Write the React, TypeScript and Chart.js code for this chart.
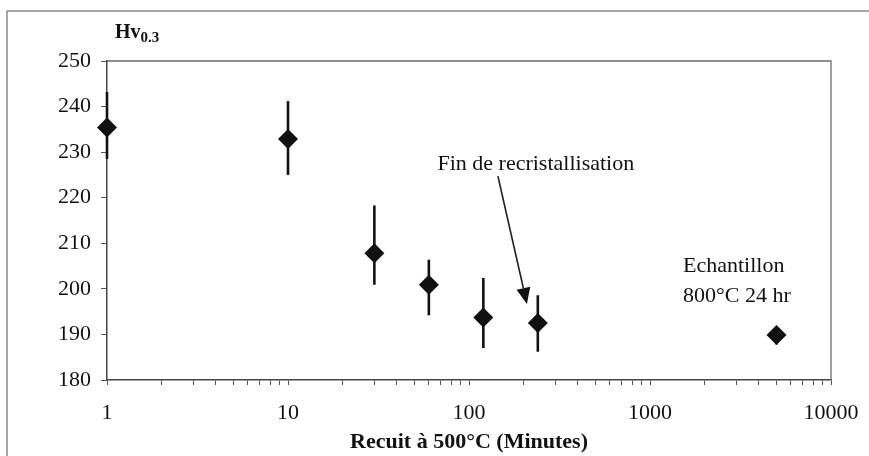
import React, { useEffect, useRef } from "react";
import { Chart, registerables } from "chart.js";

Chart.register(...registerables);

// ---- data ----
const times = [1, 10, 30, 60, 120, 240, 5000];
const hardness = [235.4, 232.9, 207.8, 200.9, 193.7, 192.5, 189.9];
const errLow = [228.5, 225.0, 200.9, 194.2, 187.0, 186.2, 187.8];
const errHigh = [243.2, 241.2, 218.3, 206.4, 202.4, 198.6, 191.2];

const yMin = 180;
const yMax = 250;
const yStep = 10;
const xMin = 1;
const xMax = 10000;

const yAxisLabel = "Hv";
const yAxisSub = "0.3";
const xAxisLabel = "Recuit à 500°C (Minutes)";

const noteTexts = ["Fin de recristallisation", "Echantillon", "800°C 24 hr"];
const noteX = [234, 1521, 1521];
const noteY = [226, 203.6, 197.2];
const noteAlign = ["center", "left", "left"];
const arrowFrom = [144.5, 224.7];
const arrowTo = [209, 196.7];

const SERIF = '"Liberation Serif", "Times New Roman", serif';

const decorPlugin = {
  id: "decor",
  beforeDatasetsDraw(chart: any) {
    const { ctx, scales } = chart;
    const xs = scales.x;
    const ys = scales.y;
    ctx.save();
    ctx.strokeStyle = "#111";
    ctx.lineWidth = 2.6;
    for (let i = 0; i < times.length; i++) {
      const px = xs.getPixelForValue(times[i]);
      ctx.beginPath();
      ctx.moveTo(px, ys.getPixelForValue(errLow[i]));
      ctx.lineTo(px, ys.getPixelForValue(errHigh[i]));
      ctx.stroke();
    }
    ctx.restore();
  },
  afterDraw(chart: any) {
    const { ctx, scales, chartArea, width, height } = chart;
    const xs = scales.x;
    const ys = scales.y;
    ctx.save();
    // outer frame (top + left visible)
    ctx.strokeStyle = "#8a8a8a";
    ctx.lineWidth = 1.5;
    ctx.beginPath();
    ctx.moveTo(7, height);
    ctx.lineTo(7, 11);
    ctx.lineTo(width, 11);
    ctx.stroke();
    // plot box top + right
    ctx.strokeStyle = "#6e6e6e";
    ctx.lineWidth = 1.3;
    ctx.beginPath();
    ctx.moveTo(chartArea.left, chartArea.top);
    ctx.lineTo(chartArea.right, chartArea.top);
    ctx.lineTo(chartArea.right, chartArea.bottom);
    ctx.stroke();

    ctx.fillStyle = "#111";
    // y axis label Hv0.3
    ctx.textBaseline = "alphabetic";
    ctx.textAlign = "left";
    ctx.font = `bold 20px ${SERIF}`;
    const hx = 115;
    ctx.fillText(yAxisLabel, hx, 38);
    const hw = ctx.measureText(yAxisLabel).width;
    ctx.font = `bold 15px ${SERIF}`;
    ctx.fillText(yAxisSub, hx + hw, 42);

    // x axis title
    ctx.font = `bold 22px ${SERIF}`;
    ctx.textAlign = "center";
    ctx.fillText(xAxisLabel, (chartArea.left + chartArea.right) / 2, 448);

    // notes
    ctx.font = `22px ${SERIF}`;
    for (let i = 0; i < noteTexts.length; i++) {
      ctx.textAlign = noteAlign[i] as CanvasTextAlign;
      ctx.fillText(noteTexts[i], xs.getPixelForValue(noteX[i]), ys.getPixelForValue(noteY[i]));
    }

    // arrow
    const x0 = xs.getPixelForValue(arrowFrom[0]);
    const y0 = ys.getPixelForValue(arrowFrom[1]);
    const x1 = xs.getPixelForValue(arrowTo[0]);
    const y1 = ys.getPixelForValue(arrowTo[1]);
    const ang = Math.atan2(y1 - y0, x1 - x0);
    const headLen = 16;
    const headW = 7;
    const bx = x1 - headLen * Math.cos(ang);
    const by = y1 - headLen * Math.sin(ang);
    ctx.strokeStyle = "#222";
    ctx.lineWidth = 1.6;
    ctx.beginPath();
    ctx.moveTo(x0, y0);
    ctx.lineTo(bx, by);
    ctx.stroke();
    ctx.beginPath();
    ctx.moveTo(x1, y1);
    ctx.lineTo(bx + headW * Math.sin(ang), by - headW * Math.cos(ang));
    ctx.lineTo(bx - headW * Math.sin(ang), by + headW * Math.cos(ang));
    ctx.closePath();
    ctx.fill();
    ctx.restore();
  },
};

export default function App() {
  const ref = useRef<HTMLCanvasElement | null>(null);
  useEffect(() => {
    if (!ref.current) return;
    const chart = new Chart(ref.current, {
      type: "scatter",
      data: {
        datasets: [
          {
            data: times.map((t, i) => ({ x: t, y: hardness[i] })),
            pointStyle: "rectRot",
            pointRadius: 10,
            pointHoverRadius: 10,
            backgroundColor: "#111",
            borderColor: "#111",
            borderWidth: 0,
            clip: false,
          },
        ],
      },
      options: {
        responsive: false,
        animation: false,
        events: [],
        layout: { padding: { top: 61, right: 38, left: 0, bottom: 0 } },
        plugins: {
          legend: { display: false },
          tooltip: { enabled: false },
        },
        scales: {
          x: {
            type: "logarithmic",
            min: xMin,
            max: xMax,
            afterBuildTicks(scale: any) {
              const t: any[] = [];
              for (let d = 1; d < xMax; d *= 10) {
                for (let k = 1; k < 10; k++) t.push({ value: d * k });
              }
              t.push({ value: xMax });
              scale.ticks = t;
            },
            afterFit(scale: any) {
              scale.height = 76;
              scale.paddingLeft = 0;
              scale.paddingRight = 0;
            },
            ticks: {
              autoSkip: false,
              maxRotation: 0,
              padding: 15,
              color: "#111",
              font: { family: SERIF, size: 22 },
              callback(value: any) {
                const v = Number(value);
                const l = Math.log10(v);
                return Math.abs(l - Math.round(l)) < 1e-9 ? String(v) : "";
              },
            },
            grid: {
              drawOnChartArea: false,
              drawTicks: true,
              tickLength: 5,
              color: "#555",
              lineWidth: 1,
            },
            border: { display: true, color: "#444", width: 1.5 },
          },
          y: {
            min: yMin,
            max: yMax,
            afterFit(scale: any) {
              scale.width = 107;
              scale.paddingTop = 0;
              scale.paddingBottom = 0;
            },
            ticks: {
              stepSize: yStep,
              padding: 10,
              color: "#111",
              font: { family: SERIF, size: 22 },
            },
            grid: {
              drawOnChartArea: false,
              drawTicks: true,
              tickLength: 6,
              color: "#555",
              lineWidth: 1,
            },
            border: { display: true, color: "#444", width: 1.5 },
          },
        },
      },
      plugins: [decorPlugin],
    });
    return () => chart.destroy();
  }, []);
  return (
    <div style={{ position: "absolute", left: 0, top: 0, width: 869, height: 456, background: "#fff" }}>
      <canvas ref={ref} width={869} height={456} style={{ display: "block" }} />
    </div>
  );
}
